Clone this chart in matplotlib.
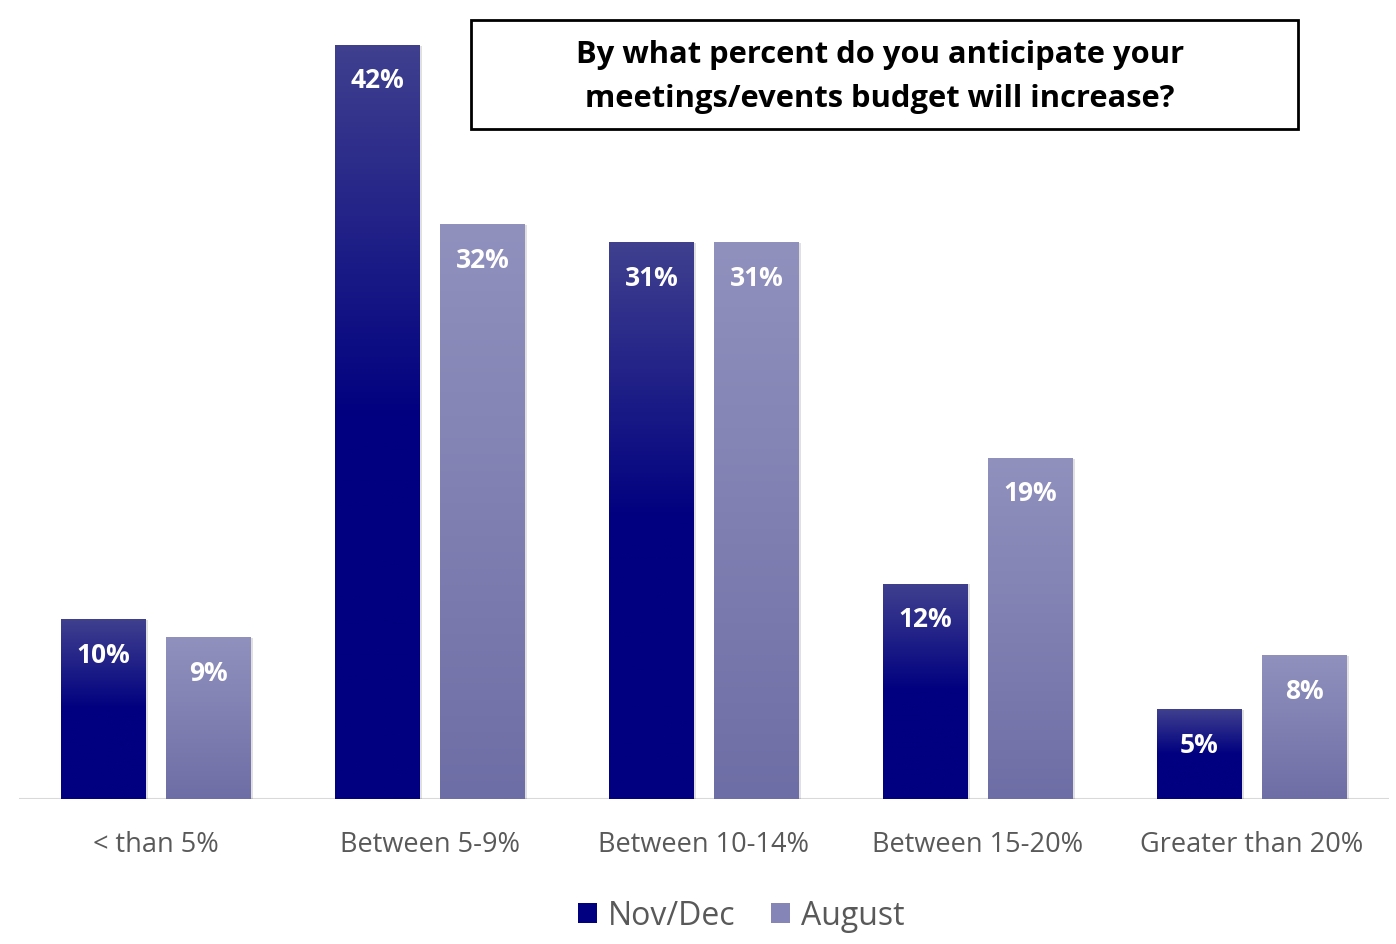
import numpy as np
import matplotlib.pyplot as plt
from matplotlib.colors import LinearSegmentedColormap
from matplotlib.patches import Rectangle

categories = ["< than 5%", "Between 5-9%", "Between 10-14%", "Between 15-20%", "Greater than 20%"]
series_names = ["Nov/Dec", "August"]
nov_dec = [10, 42, 31, 12, 5]
august = [9, 32, 31, 19, 8]
title = "By what percent do you anticipate your\nmeetings/events budget will increase?"

FONT = ["Open Sans", "DejaVu Sans"]
plt.rcParams["font.family"] = FONT

fig = plt.figure(figsize=(13.96, 9.45), dpi=100)
ax = fig.add_axes([19 / 1396, (945 - 800) / 945, 1370 / 1396, 790 / 945])
ax.set_xlim(-0.5, len(categories) - 0.5)
ax.set_ylim(0, 44)

# gradients: bottom -> top
navy_cmap = LinearSegmentedColormap.from_list(
    "navy", [(0.0, "#000080"), (0.5, "#000080"), (1.0, "#40408f")])
lav_cmap = LinearSegmentedColormap.from_list(
    "lav", [(0.0, "#6e6ea6"), (1.0, "#9191be")])

width = 0.31
offset = 0.1916
grad = np.linspace(0, 1, 256).reshape(-1, 1)


def gradient_bar(x, h, cmap):
    left = x - width / 2
    # soft drop shadow
    ax.add_patch(Rectangle((left + 0.004, -0.05), width + 0.004, h, facecolor="#000000",
                           alpha=0.12, edgecolor="none", zorder=1))
    rect = Rectangle((left, 0), width, h, facecolor="none", edgecolor="none", zorder=2)
    ax.add_patch(rect)
    im = ax.imshow(grad, cmap=cmap, origin="lower", aspect="auto",
                   extent=(left, left + width, 0, h), zorder=2)
    im.set_clip_path(rect)


xs = np.arange(len(categories))
for i, (a, b) in enumerate(zip(nov_dec, august)):
    gradient_bar(xs[i] - offset, a, navy_cmap)
    gradient_bar(xs[i] + offset, b, lav_cmap)
    ax.text(xs[i] - offset, a - 1.95, f"{a}%", ha="center", va="center", color="white",
            fontsize=19, fontweight="bold", zorder=3)
    ax.text(xs[i] + offset, b - 1.95, f"{b}%", ha="center", va="center", color="white",
            fontsize=19, fontweight="bold", zorder=3)

ax.set_xlim(-0.5, len(categories) - 0.5)
ax.set_ylim(0, 44)
ax.axhline(0, color="#d9d9d9", lw=1.5, zorder=0)
for s in ax.spines.values():
    s.set_visible(False)
ax.set_yticks([])
ax.set_xticks(xs)
ax.set_xticklabels(categories, fontsize=19.5, color="#595959")
ax.tick_params(axis="x", length=0, pad=22)

# title box
fig.text(880 / 1396, 1 - 77 / 945, title, ha="center", va="center", fontsize=22.2,
         fontweight="bold", color="black", linespacing=1.6)
fig.patches.append(Rectangle((471 / 1396, 1 - 130 / 945), 827 / 1396, 109 / 945,
                             transform=fig.transFigure, facecolor="none",
                             edgecolor="black", lw=2))

# legend
handles = [Rectangle((0, 0), 1, 1, facecolor="#000080"),
           Rectangle((0, 0), 1, 1, facecolor="#8585b8")]
fig.legend(handles, series_names, loc="center", bbox_to_anchor=(741 / 1396, 1 - 917 / 945),
           ncol=2, frameon=False, fontsize=23, handlelength=0.6, handleheight=0.6,
           handletextpad=0.35, columnspacing=1.1, labelcolor="#595959")

fig.savefig("out.png", dpi=100)
